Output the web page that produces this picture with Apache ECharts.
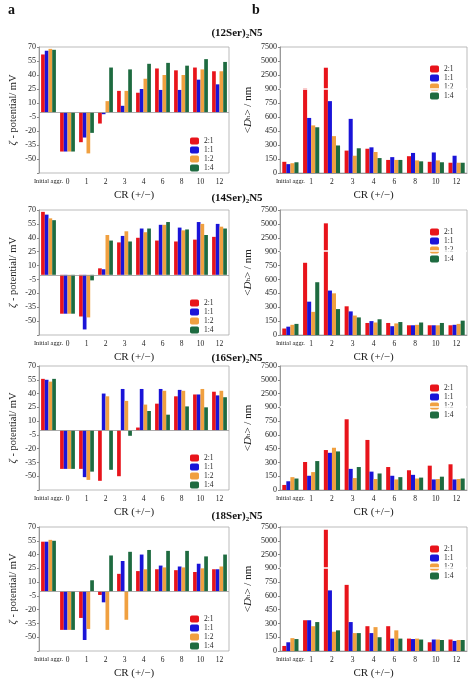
<!DOCTYPE html>
<html><head><meta charset="utf-8">
<script src="https://cdn.jsdelivr.net/npm/echarts@6/dist/echarts.min.js"></script>
<style>html,body{margin:0;padding:0;background:#fff}#c{width:474px;height:680px}</style>
</head><body><div id="c"></div>
<script>
const zetaCats = ['Initial aggr.','0','1','2','3','4','6','8','10','12'];
const dhCats = ['Initial aggr.','1','2','3','4','6','8','10','12'];
const seriesNames = ['2:1','1:1','1:2','1:4'];
const colors = ['#e8141b','#1a14d8','#f0a040','#1e6b40'];
const titles = ['(12Ser)','(14Ser)','(16Ser)','(18Ser)'];
const dhTickLabels = {1050:'2500',1200:'5000',1350:'7500'};

// zeta potential (mV)
const zeta12_21 = [62,-42,-32,-12,23,21,47,45,48,44];
const zeta12_11 = [66,-42,-27,-2,7,25,24,24,35,30];
const zeta12_12 = [68,-42,-44,12,23,36,40,40,46,44];
const zeta12_14 = [67,-42,-22,48,46,52,53,50,57,54];
const zeta14_21 = [68,-42,-45,7,35,40,37,36,38,41];
const zeta14_11 = [65,-42,-59,6,42,50,54,51,57,55];
const zeta14_12 = [61,-42,-46,43,47,46,54,48,55,52];
const zeta14_14 = [59,-42,-6,37,36,50,57,49,43,50];
const zeta16_21 = [56,-42,-42,-55,-50,3,29,37,39,42];
const zeta16_11 = [55,-42,-51,40,45,45,45,44,39,38];
const zeta16_12 = [53,-42,-54,37,32,28,43,43,45,43];
const zeta16_14 = [56,-42,-45,-43,-6,21,17,26,25,36];
const zeta18_21 = [54,-42,-29,-4,19,22,24,23,21,24];
const zeta18_11 = [54,-42,-53,-12,33,40,28,27,30,24];
const zeta18_12 = [56,-42,-41,-42,-31,24,26,26,25,27];
const zeta18_14 = [55,-42,12,39,43,45,44,44,38,40];
// hydrodynamic diameter (nm)
const dh12_21 = [120,1000,3800,240,260,140,180,120,110];
const dh12_11 = [95,590,770,580,275,170,215,220,185];
const dh12_12 = [105,510,395,185,225,140,135,135,110];
const dh12_14 = [115,490,295,265,160,140,125,115,110];
const dh14_21 = [70,780,5100,310,130,130,105,105,105];
const dh14_11 = [90,360,480,255,150,95,105,105,110];
const dh14_12 = [110,250,450,210,135,125,110,105,120];
const dh14_14 = [120,570,280,190,170,140,135,130,155];
const dh16_21 = [55,305,435,770,545,250,215,265,280];
const dh16_11 = [95,155,405,230,200,155,165,115,115];
const dh16_12 = [140,195,460,130,120,115,125,120,120];
const dh16_14 = [125,315,420,250,180,140,135,145,125];
const dh18_21 = [55,335,7000,720,270,270,135,95,125];
const dh18_11 = [95,335,660,315,195,135,130,125,110];
const dh18_12 = [140,270,210,195,260,225,135,125,120];
const dh18_14 = [130,315,225,195,150,135,125,120,120];

const zeta = [[zeta12_21,zeta12_11,zeta12_12,zeta12_14],[zeta14_21,zeta14_11,zeta14_12,zeta14_14],
              [zeta16_21,zeta16_11,zeta16_12,zeta16_14],[zeta18_21,zeta18_11,zeta18_12,zeta18_14]];
const dh = [[dh12_21,dh12_11,dh12_12,dh12_14],[dh14_21,dh14_11,dh14_12,dh14_14],
            [dh16_21,dh16_11,dh16_12,dh16_14],[dh18_21,dh18_11,dh18_12,dh18_14]];

// broken-axis transform
function brk(v){
  if (v<=900) return v;
  if (v<=2500) return 900+(v-900)/1600*150;
  if (v<=5000) return 1050+(v-2500)/2500*150;
  return 1200+(v-5000)/2500*150;
}

const F = 'Liberation Serif';
const tops = [47,210,366,527];
const bottoms = [173,335,490,651];
const grids=[], xAxes=[], yAxes=[], series=[], legends=[], graphics=[];
const axLine = {lineStyle:{color:'#888',width:0.8}};
const xLab = {fontFamily:F, fontSize:7.5, color:'#222', interval:0, margin:5,
  formatter:v=>v==='Initial aggr.'?'{s|'+v+'}':v, rich:{s:{fontFamily:F,fontSize:6.3,color:'#222'}}};
for (let p=0;p<4;p++){
  const gi = grids.length;
  grids.push({left:39, width:190, top:tops[p], height:bottoms[p]-tops[p], show:true, borderColor:'#aaa', borderWidth:0.8});
  xAxes.push({type:'category', gridIndex:gi, data:zetaCats, axisLine:{show:false}, axisTick:{show:false},
    axisLabel:xLab,
    name:'CR (+/\u2212)', nameLocation:'middle', nameGap:17, nameTextStyle:{fontFamily:F,fontSize:11,color:'#222'}});
  yAxes.push({type:'value', gridIndex:gi, min:-65, max:70, interval:15, splitLine:{show:false},
    axisLine:{show:true,...axLine}, axisTick:{show:true,length:2,lineStyle:{color:'#888'}},
    axisLabel:{fontFamily:F,fontSize:8,color:'#222',margin:3,formatter:v=>v===-65?'':String(v)},
    name:'{i|\u03b6} - potential/ mV', nameLocation:'middle', nameGap:20,
    nameTextStyle:{fontFamily:F,fontSize:10.5,color:'#222',rich:{i:{fontFamily:F,fontStyle:'italic',fontSize:11}}}});
  for (let s=0;s<4;s++){
    const ser = {type:'bar', name:seriesNames[s], xAxisIndex:gi, yAxisIndex:gi, data:zeta[p][s],
      itemStyle:{color:colors[s]}, barGap:'0%', barCategoryGap:'22%'};
    if (s===0) ser.markLine = {silent:true, symbol:'none', label:{show:false},
      lineStyle:{color:'#999',type:'solid',width:0.8}, data:[{yAxis:0}]};
    series.push(ser);
  }
  legends.push({orient:'vertical', left:185, top:bottoms[p]-41, itemWidth:9, itemHeight:7, itemGap:1,
    textStyle:{fontFamily:F,fontSize:7.5,color:'#222'}, data:seriesNames, selectedMode:false});
  const gj = grids.length;
  grids.push({left:280, width:187, top:tops[p], height:bottoms[p]-tops[p], show:true, borderColor:'#aaa', borderWidth:0.8});
  xAxes.push({type:'category', gridIndex:gj, data:dhCats, axisLine:{show:true,...axLine}, axisTick:{show:false},
    axisLabel:xLab,
    name:'CR (+/\u2212)', nameLocation:'middle', nameGap:17, nameTextStyle:{fontFamily:F,fontSize:11,color:'#222'}});
  yAxes.push({type:'value', gridIndex:gj, min:0, max:1350, interval:150, splitLine:{show:false},
    axisLine:{show:true,...axLine}, axisTick:{show:true,length:2,lineStyle:{color:'#888'}},
    axisLabel:{fontFamily:F,fontSize:8,color:'#222',margin:3,formatter:v=>dhTickLabels[v]||String(v)},
    name:'<{i|D}{s|h}> / nm', nameLocation:'middle', nameGap:26,
    nameTextStyle:{fontFamily:F,fontSize:11,color:'#222',rich:{i:{fontFamily:F,fontStyle:'italic',fontSize:11},s:{fontFamily:F,fontSize:7}}}});
  for (let s=0;s<4;s++){
    const ser = {type:'bar', name:seriesNames[s], xAxisIndex:gj, yAxisIndex:gj, data:dh[p][s].map(brk),
      itemStyle:{color:colors[s]}, barGap:'0%', barCategoryGap:'22%', z:2};
    if (s===0) ser.markLine = {silent:true, symbol:'none', label:{show:false}, z:5,
      lineStyle:{color:'#fff',type:'solid',width:1.5}, data:[{yAxis:907}]};
    series.push(ser);
  }
  legends.push({orient:'vertical', left:425, top:tops[p]+13, itemWidth:9, itemHeight:7, itemGap:1,
    textStyle:{fontFamily:F,fontSize:7.5,color:'#222'}, data:seriesNames, selectedMode:false});
}
const titleY = [28,193,353,511];
for (let p=0;p<4;p++){
  graphics.push({type:'text', left:'center', top:titleY[p], style:{
    text:'{a|'+titles[p]+'}{s|2}{a|N5}', fill:'#111',
    rich:{a:{fontFamily:F,fontSize:11,fontWeight:'bold'},s:{fontFamily:F,fontSize:7,fontWeight:'bold',padding:[6,0,0,0]}}}});
}
graphics.push({type:'text', left:8, top:3, style:{text:'a', fontFamily:F, fontSize:14, fontWeight:'bold', fill:'#111'}});
graphics.push({type:'text', left:252, top:3, style:{text:'b', fontFamily:F, fontSize:14, fontWeight:'bold', fill:'#111'}});

const chart = echarts.init(document.getElementById('c'));
chart.setOption({animation:false, grid:grids, xAxis:xAxes, yAxis:yAxes, series, legend:legends, graphic:graphics});
</script></body></html>
